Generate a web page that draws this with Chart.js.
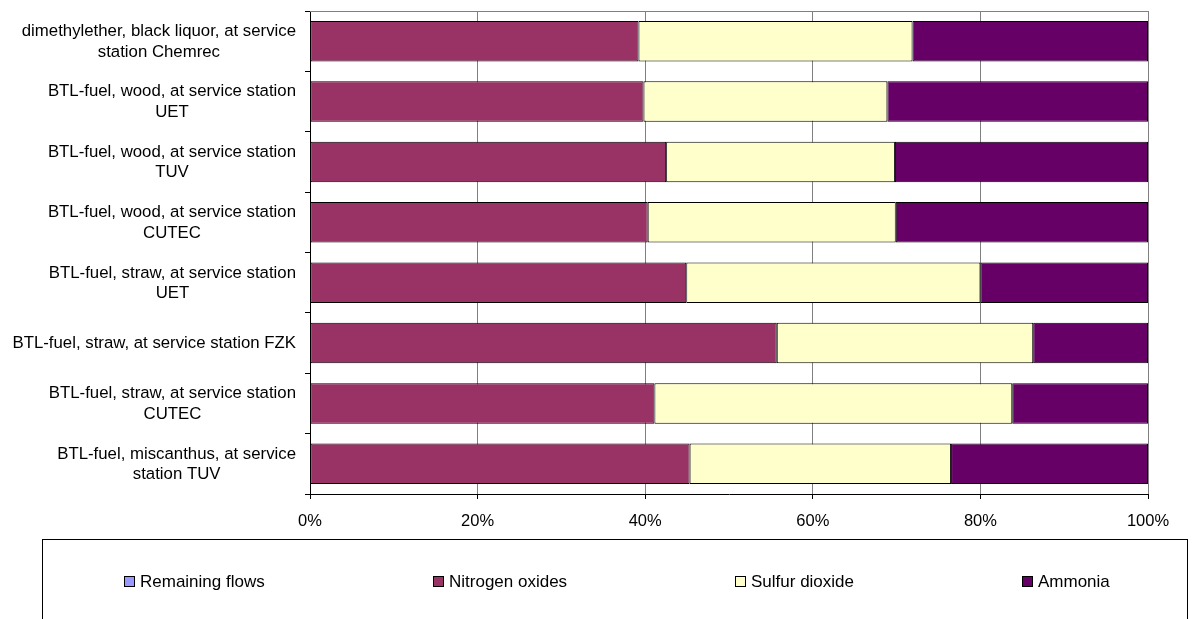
<!DOCTYPE html>
<html>
<head>
<meta charset="utf-8">
<script src="https://cdn.jsdelivr.net/npm/chart.js@4/dist/chart.umd.min.js"></script>
<style>
  html, body { margin: 0; padding: 0; background: #fff; overflow: hidden; }
  #wrap { width: 1195px; height: 619px; }
</style>
</head>
<body>
<div id="wrap"><canvas id="c" width="1195" height="619"></canvas></div>
<script>
// Process labels (each one split into the lines shown on the axis)
const categories = [
  ['dimethylether, black liquor, at service', 'station Chemrec'],
  ['BTL-fuel, wood, at service station', 'UET'],
  ['BTL-fuel, wood, at service station', 'TUV'],
  ['BTL-fuel, wood, at service station', 'CUTEC'],
  ['BTL-fuel, straw, at service station', 'UET'],
  ['BTL-fuel, straw, at service station FZK'],
  ['BTL-fuel, straw, at service station', 'CUTEC'],
  ['BTL-fuel, miscanthus, at service', 'station TUV']
];

// Share of each flow, in percent
const remainingFlows = [0, 0, 0, 0, 0, 0, 0, 0];
const nitrogenOxides = [39.2, 39.8, 42.5, 40.3, 44.9, 55.7, 41.1, 45.3];
const sulfurDioxide  = [32.7, 29.1, 27.3, 29.6, 35.1, 30.6, 42.7, 31.2];
const ammonia        = [28.1, 31.1, 30.2, 30.1, 20.0, 13.7, 16.2, 23.5];

const seriesNames = ['Remaining flows', 'Nitrogen oxides', 'Sulfur dioxide', 'Ammonia'];
const seriesColors = ['#9999FF', '#993366', '#FFFFCC', '#660066'];
const xTickValues = [0, 20, 40, 60, 80, 100];

const FONT = '"Liberation Sans", Arial, sans-serif';

// Multi-line category labels: each label centred on its own widest line,
// the block right-aligned against the axis.
const categoryLabels = {
  id: 'categoryLabels',
  afterDraw(chart) {
    const y = chart.scales.y;
    const ctx = chart.ctx;
    ctx.save();
    ctx.font = '16.8px ' + FONT;
    ctx.fillStyle = '#000';
    ctx.textAlign = 'center';
    ctx.textBaseline = 'middle';
    const lineH = 20.5;
    const right = y.right - 14;
    categories.forEach((lines, i) => {
      const cy = y.getPixelForValue(i) + 0.5;
      const widest = Math.max(...lines.map(l => ctx.measureText(l).width));
      const cx = right - widest / 2;
      const top = cy - (lines.length - 1) * lineH / 2;
      lines.forEach((l, j) => ctx.fillText(l, cx, top + j * lineH));
    });
    ctx.restore();
  }
};

// Thin grey frame line along the top of the plot area
const plotFrame = {
  id: 'plotFrame',
  beforeDatasetsDraw(chart) {
    const a = chart.chartArea;
    const ctx = chart.ctx;
    ctx.save();
    ctx.strokeStyle = '#808080';
    ctx.lineWidth = 1;
    ctx.beginPath();
    ctx.moveTo(a.left, Math.round(a.top) + 0.5);
    ctx.lineTo(a.right, Math.round(a.top) + 0.5);
    ctx.stroke();
    ctx.restore();
  }
};

// Boxed legend below the chart
const boxedLegend = {
  id: 'boxedLegend',
  afterDraw(chart) {
    const ctx = chart.ctx;
    ctx.save();
    ctx.strokeStyle = '#000';
    ctx.lineWidth = 1;
    ctx.strokeRect(42.5, 539.5, 1145, 100);
    const itemX = [124, 433, 735, 1022];
    const cy = 581;
    ctx.font = '17px ' + FONT;
    ctx.textBaseline = 'middle';
    ctx.textAlign = 'left';
    chart.data.datasets.forEach((ds, i) => {
      const x = itemX[i];
      ctx.fillStyle = ds.backgroundColor;
      ctx.fillRect(x, cy - 5, 11, 11);
      ctx.strokeStyle = '#000';
      ctx.strokeRect(x + 0.5, cy - 5 + 0.5, 10, 10);
      ctx.fillStyle = '#000';
      ctx.fillText(ds.label, x + 16, cy + 1);
    });
    ctx.restore();
  }
};

const seriesValues = [remainingFlows, nitrogenOxides, sulfurDioxide, ammonia];

new Chart(document.getElementById('c'), {
  type: 'bar',
  data: {
    labels: categories.map(c => c.join(' ')),
    datasets: seriesValues.map((vals, i) => ({
      label: seriesNames[i],
      data: vals,
      backgroundColor: seriesColors[i],
      borderColor: '#000',
      borderWidth: 1,
      borderSkipped: false,
      categoryPercentage: 1,
      barPercentage: 0.67
    }))
  },
  options: {
    indexAxis: 'y',
    responsive: false,
    animation: false,
    devicePixelRatio: 1,
    layout: { padding: { left: 0, right: 47, top: 11, bottom: 85 } },
    plugins: {
      legend: { display: false },
      tooltip: { enabled: false }
    },
    scales: {
      x: {
        stacked: true,
        min: 0,
        max: 100,
        afterBuildTicks(scale) {
          scale.ticks = xTickValues.map(v => ({ value: v }));
        },
        afterFit(scale) { scale.height = 40; },
        ticks: {
          callback: v => v + '%',
          color: '#000',
          font: { family: FONT, size: 16.5 },
          padding: 13,
          maxRotation: 0
        },
        grid: {
          color: '#808080',
          tickColor: '#000',
          tickLength: 5,
          lineWidth: 1
        },
        border: { color: '#000', width: 1 }
      },
      y: {
        stacked: true,
        afterFit(scale) { scale.width = 310; },
        ticks: { display: false },
        grid: {
          offset: true,
          drawOnChartArea: false,
          tickColor: '#000',
          tickLength: 5
        },
        border: { color: '#000', width: 1 }
      }
    }
  },
  plugins: [categoryLabels, plotFrame, boxedLegend]
});
</script>
</body>
</html>
